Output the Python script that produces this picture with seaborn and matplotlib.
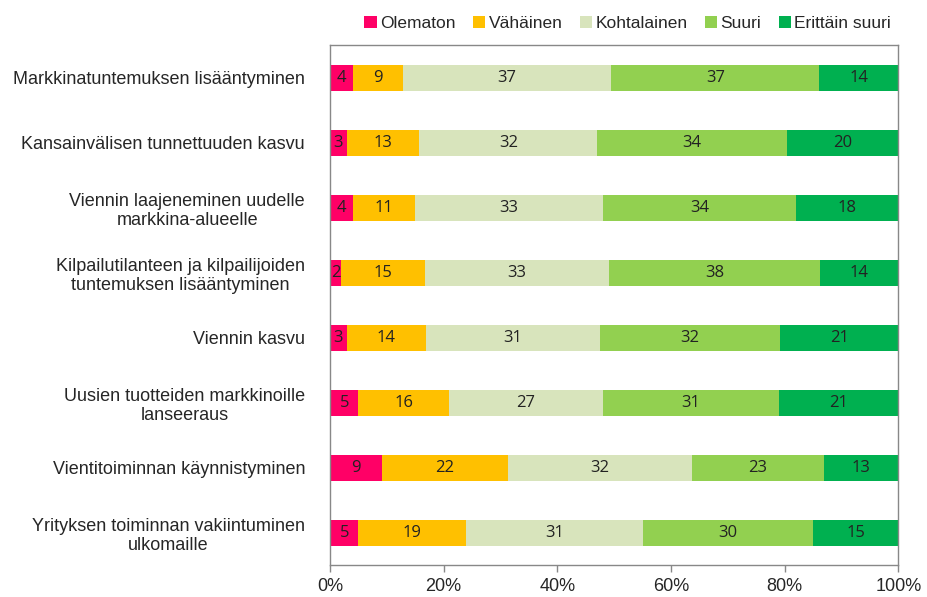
import numpy as np
import pandas as pd
import matplotlib
matplotlib.use("Agg")
import matplotlib.pyplot as plt
import seaborn as sns

# Data
categories = [
    "Markkinatuntemuksen lisääntyminen",
    "Kansainvälisen tunnettuuden kasvu",
    "Viennin laajeneminen uudelle\nmarkkina-alueelle",
    "Kilpailutilanteen ja kilpailijoiden\ntuntemuksen lisääntyminen",
    "Viennin kasvu",
    "Uusien tuotteiden markkinoille\nlanseeraus",
    "Vientitoiminnan käynnistyminen",
    "Yrityksen toiminnan vakiintuminen\nulkomaille",
]
levels = ["Olematon", "Vähäinen", "Kohtalainen", "Suuri", "Erittäin suuri"]
olematon = [4, 3, 4, 2, 3, 5, 9, 5]
vahainen = [9, 13, 11, 15, 14, 16, 22, 19]
kohtalainen = [37, 32, 33, 33, 31, 27, 32, 31]
suuri = [37, 34, 34, 38, 32, 31, 23, 30]
erittain = [14, 20, 18, 14, 21, 21, 13, 15]
colors = ["#FF0066", "#FFC000", "#D8E4BC", "#92D050", "#00B050"]

sns.set_style("white")
plt.rcParams["font.family"] = ["Liberation Sans", "DejaVu Sans"]

df = pd.DataFrame({"kategoria": categories})
vals = np.array([olematon, vahainen, kohtalainen, suuri, erittain], dtype=float)
pct = vals / vals.sum(axis=0) * 100
cum = np.cumsum(pct, axis=0)

fig = plt.figure(figsize=(9.27, 5.97), dpi=100)
ax = fig.add_axes([0.356, 0.0536, 0.613, 0.871])

# draw cumulative layers from right to left
for i in range(len(levels) - 1, -1, -1):
    df["x"] = cum[i]
    sns.barplot(data=df, y="kategoria", x="x", color=colors[i], orient="h",
                width=0.4, ax=ax, label=levels[i], edgecolor="none", saturation=1)
if ax.get_legend() is not None:
    ax.get_legend().remove()

# value labels
for i in range(len(levels)):
    for j in range(len(categories)):
        left = cum[i][j] - pct[i][j]
        ax.text(left + pct[i][j] / 2, j, str(int(vals[i][j])), ha="center", va="center",
                fontsize=12, color="#222222", family=["Open Sans", "DejaVu Sans"])

ax.set_xlim(0, 100)
ax.set_ylim(len(categories) - 0.5, -0.5)
ax.set_xticks([0, 20, 40, 60, 80, 100])
ax.set_xticklabels(["0%", "20%", "40%", "60%", "80%", "100%"], fontsize=13)
ax.set_xlabel("")
ax.set_ylabel("")
ax.tick_params(axis="y", labelsize=13, length=0, pad=18)
ax.tick_params(axis="x", length=5, width=1, color="#888888", direction="out", bottom=True, pad=4)
for lbl in ax.get_yticklabels():
    lbl.set_horizontalalignment("right")
    lbl.set_multialignment("center")
for s in ax.spines.values():
    s.set_color("#888888")
    s.set_linewidth(1)

handles, labels = ax.get_legend_handles_labels()
order = [labels.index(l) for l in levels]
leg = fig.legend([handles[k] for k in order], levels, loc="upper right",
                 bbox_to_anchor=(0.978, 1.0), ncol=5, frameon=False, fontsize=12.5,
                 handlelength=0.7, handleheight=0.7, handletextpad=0.2, columnspacing=1.0)

fig.savefig("out.png", dpi=100)
